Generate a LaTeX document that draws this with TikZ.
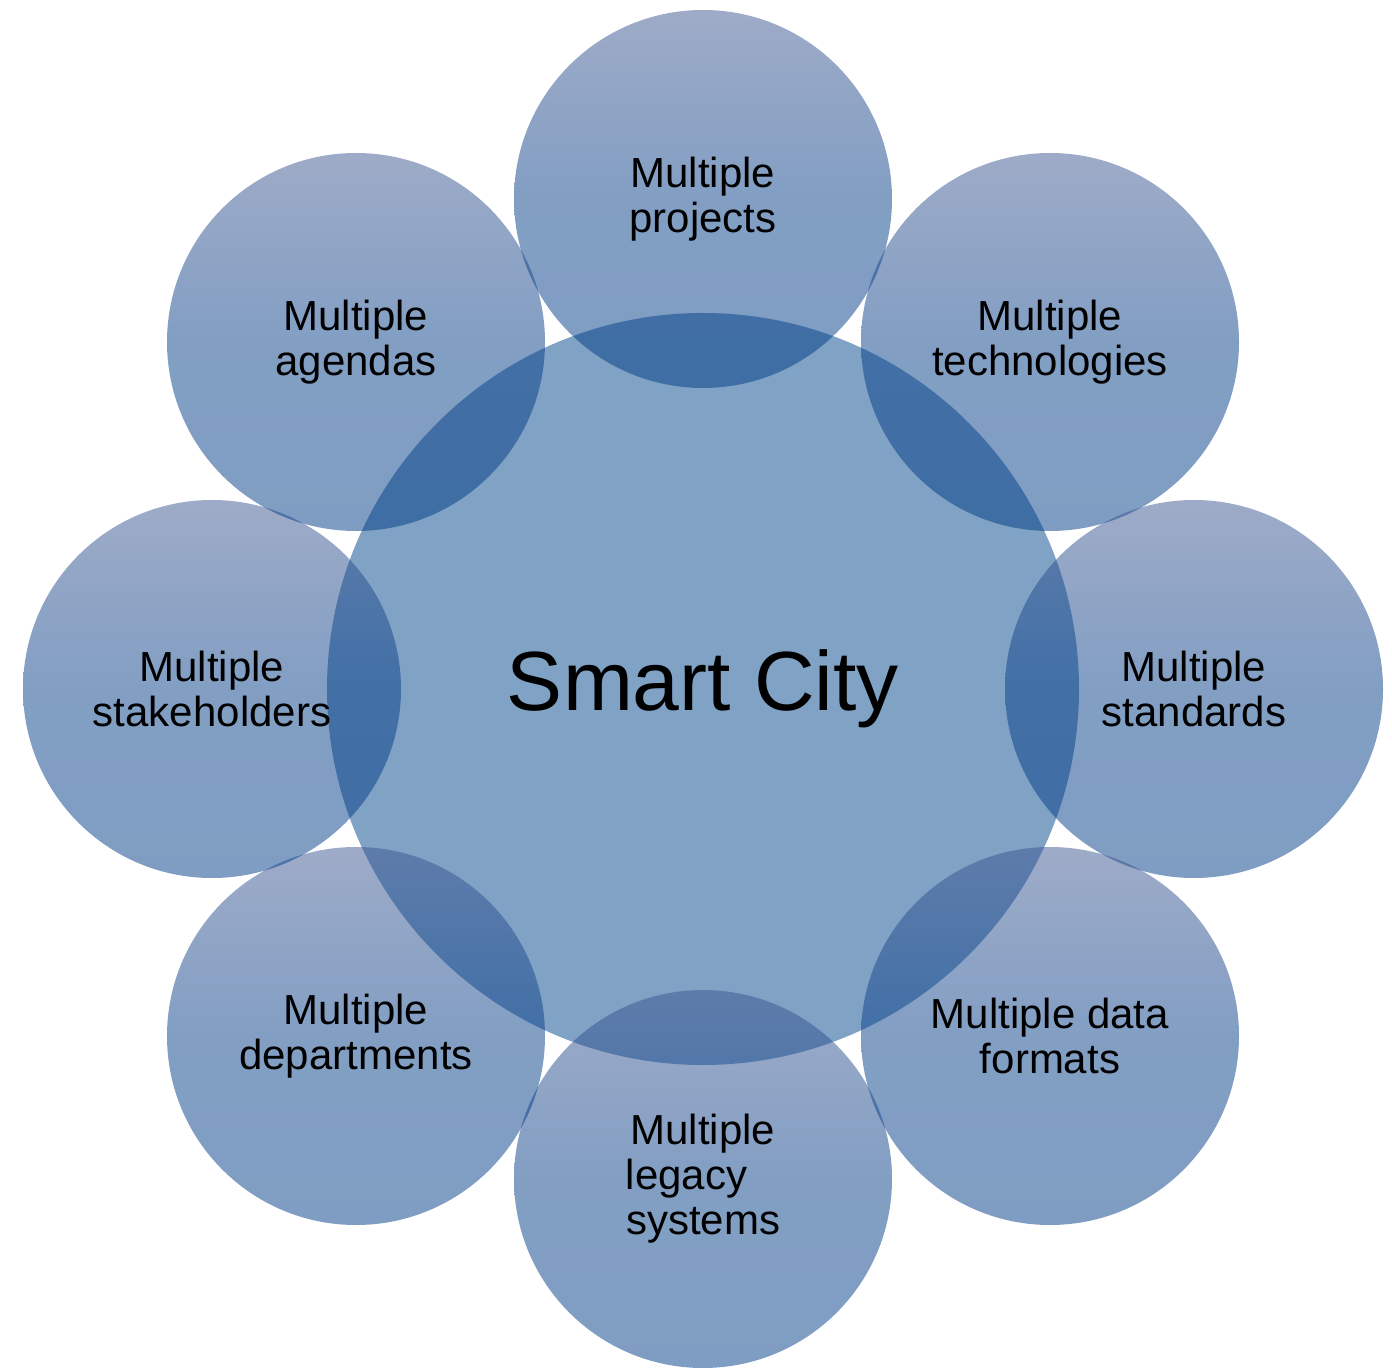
\documentclass[tikz,border=0pt]{standalone}
\usepackage{fontspec}
\setmainfont{Liberation Sans}
\definecolor{cfill}{RGB}{0,70,140}
\definecolor{otop}{RGB}{61,87,145}
\definecolor{omid}{RGB}{5,62,136}
\definecolor{obot}{RGB}{0,58,134}
\tikzset{
  outercirc/.style={circle, minimum size=189pt, inner sep=0pt, outer sep=0pt,
    top color=otop, bottom color=obot, middle color=omid,
    fill opacity=0.5, text opacity=1, align=center, text=black,
    font=\fontsize{21}{22.5}\selectfont},
  hubcirc/.style={circle, minimum size=376pt, inner sep=0pt, outer sep=0pt,
    fill=cfill, fill opacity=0.5, text opacity=1, text=black,
    font=\fontsize{42}{44}\selectfont}
}
\begin{document}
\begin{tikzpicture}[x=0.5pt,y=-0.5pt]
\useasboundingbox (0,0) rectangle (1392,1368);
\node[hubcirc] (hub) at (703,689) {Smart City};
\node[outercirc] (projects) at (703,199) {Multiple\\projects};
\node[outercirc] (technologies) at (1050,342) {Multiple\\technologies};
\node[outercirc] (standards) at (1194,689) {Multiple\\standards};
\node[outercirc] (formats) at (1050,1036) {Multiple data\\formats};
\node[outercirc] (legacy) at (703,1179) {Multiple\\legacy\rule{16.5pt}{0pt}\\systems};
\node[outercirc] (departments) at (356,1036) {Multiple\\departments};
\node[outercirc] (stakeholders) at (212,689) {Multiple\\stakeholders};
\node[outercirc] (agendas) at (356,342) {Multiple\\agendas};
\end{tikzpicture}
\end{document}
